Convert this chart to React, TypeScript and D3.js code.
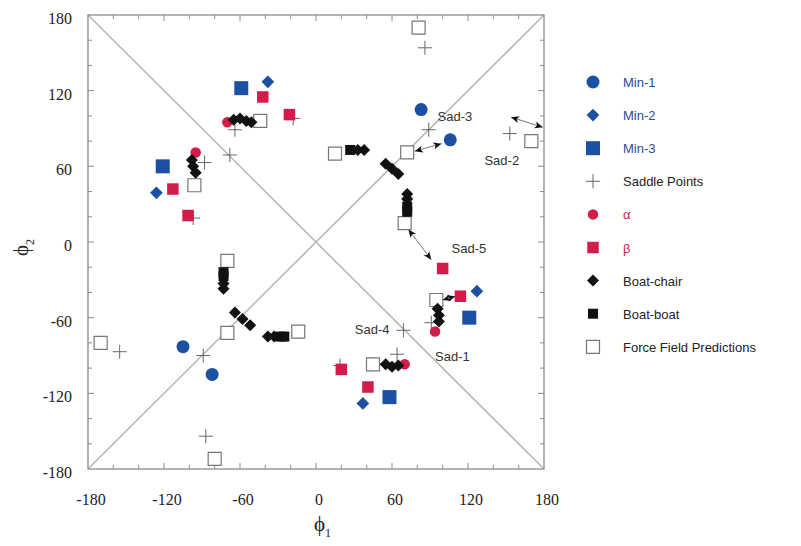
import React from "react";
import * as d3 from "d3";

// phi1, phi2 in degrees
const min1 = [[83, 105], [106, 81], [-105, -83], [-82, -105]];
const min2 = [[-38, 127], [-126, 39], [127, -39], [37, -128]];
const min3 = [[-59, 122], [-121, 60], [121, -60], [58, -123]];
const saddles = [
  [86, 154], [89, 89], [153, 86], [-64, 89], [-68, 69], [-88, 63], [-97, 19], [-18, 98],
  [69, -70], [91, -64], [64, -89], [-155, -87], [-89, -90], [-87, -154], [19, -98],
];
const alpha = [[-70, 95], [-95, 71], [94, -71], [70, -97]];
const beta = [
  [-42, 115], [-21, 101], [-113, 42], [-101, 21], [114, -43], [100, -21], [20, -101], [41, -115],
];
const boatChair = [
  [-65, 97], [-60, 98], [-55, 96], [-51, 95],
  [-98, 65], [-97, 60], [-95, 55],
  [33, 73], [38, 73],
  [55, 62], [60, 58], [65, 54],
  [72, 38], [72, 34],
  [96, -53], [97, -58], [97, -63],
  [55, -97], [60, -99], [65, -98],
  [-73, -33], [-73, -37],
  [-64, -56], [-58, -61], [-52, -66],
  [-38, -75], [-33, -75],
];
const boatBoat = [[27, 73], [72, 28], [72, 24], [-73, -27], [-73, -24], [-28, -75], [-25, -75]];
const forceField = [
  [81, 170], [-44, 96], [15, 70], [72, 71], [170, 80], [-96, 45], [70, 15], [95, -46],
  [45, -97], [-70, -15], [-70, -72], [-14, -71], [-170, -80], [-80, -172],
];
// double-headed arrows [from, to]
const arrows = [
  [[78, 72], [99, 78]],
  [[154, 99], [179, 91]],
  [[73, 10], [91, -14]],
  [[100, -46], [110, -43]],
];
const saddleLabels = [
  { text: "Sad-3", at: [96, 100], anchor: "start" },
  { text: "Sad-2", at: [133, 65], anchor: "start" },
  { text: "Sad-5", at: [107, -5], anchor: "start" },
  { text: "Sad-4", at: [58, -69], anchor: "end" },
  { text: "Sad-1", at: [94, -90], anchor: "start" },
];
const tickValues = [-180, -120, -60, 0, 60, 120, 180];
const legendItems = ["Min-1", "Min-2", "Min-3", "Saddle Points", "\u03b1", "\u03b2", "Boat-chair", "Boat-boat", "Force Field Predictions"];

const BLUE = "#1c50a3";
const RED = "#d41c4a";
const BLACK = "#111";
const FRAME = "#8c8c8c";

const x = d3.scaleLinear().domain([-180, 180]).range([88, 544]);
const y = d3.scaleLinear().domain([-180, 180]).range([469, 15]);

const circlePath = (d: number) => d3.symbol(d3.symbolCircle, (Math.PI * d * d) / 4)()!;
const squarePath = (s: number) => d3.symbol(d3.symbolSquare, s * s)()!;

function Marker({ kind, cx, cy }: { kind: string; cx: number; cy: number }) {
  const t = `translate(${cx},${cy})`;
  switch (kind) {
    case "Min-1":
      return <path d={circlePath(13)} transform={t} fill={BLUE} />;
    case "Min-2":
      return <path d={squarePath(9)} transform={`${t} rotate(45)`} fill={BLUE} />;
    case "Min-3":
      return <path d={squarePath(14)} transform={t} fill={BLUE} />;
    case "Saddle Points":
      return (
        <g transform={t} stroke="#666" strokeWidth={1}>
          <line x1={-7} x2={7} y1={0} y2={0} />
          <line x1={0} x2={0} y1={-7} y2={7} />
        </g>
      );
    case "\u03b1":
      return <path d={circlePath(10.5)} transform={t} fill={RED} />;
    case "\u03b2":
      return <path d={squarePath(11.5)} transform={t} fill={RED} />;
    case "Boat-chair":
      return <path d={squarePath(8.5)} transform={`${t} rotate(45)`} fill={BLACK} />;
    case "Boat-boat":
      return <path d={squarePath(10)} transform={t} fill={BLACK} />;
    default:
      return <path d={squarePath(13)} transform={t} fill="#fff" stroke="#777" strokeWidth={1.2} />;
  }
}

const layers: [string, number[][]][] = [
  ["Force Field Predictions", forceField],
  ["Saddle Points", saddles],
  ["Min-3", min3],
  ["Min-2", min2],
  ["Min-1", min1],
  ["\u03b2", beta],
  ["\u03b1", alpha],
  ["Boat-boat", boatBoat],
  ["Boat-chair", boatChair],
];

function Arrow({ from, to }: { from: number[]; to: number[] }) {
  const x1 = x(from[0]), y1 = y(from[1]), x2 = x(to[0]), y2 = y(to[1]);
  const ang = (Math.atan2(y2 - y1, x2 - x1) * 180) / Math.PI;
  const head = "M0,0L-8,-3.5L-6,0L-8,3.5Z";
  return (
    <g>
      <line x1={x1} y1={y1} x2={x2} y2={y2} stroke="#777" strokeWidth={1} />
      <path d={head} fill={BLACK} transform={`translate(${x2},${y2}) rotate(${ang})`} />
      <path d={head} fill={BLACK} transform={`translate(${x1},${y1}) rotate(${ang + 180})`} />
    </g>
  );
}

export default function App() {
  const minor = d3.range(-160, 180, 20);
  const serif = "'Liberation Serif', 'Times New Roman', serif";
  const sans = "'Liberation Sans', Arial, sans-serif";
  return (
    <svg width={801} height={546} style={{ position: "absolute", left: 0, top: 0, background: "#fff" }}>
      {/* diagonals */}
      <line x1={x(-180)} y1={y(-180)} x2={x(180)} y2={y(180)} stroke="#b4b4b4" strokeWidth={1.5} />
      <line x1={x(-180)} y1={y(180)} x2={x(180)} y2={y(-180)} stroke="#b4b4b4" strokeWidth={1.5} />
      {/* frame and inward ticks */}
      <rect x={x(-180)} y={y(180)} width={x(180) - x(-180)} height={y(-180) - y(180)} fill="none" stroke={FRAME} strokeWidth={1.3} />
      <g stroke={FRAME} strokeWidth={1}>
        {minor.map((v) => {
          const len = v % 60 === 0 ? 6 : 4;
          return (
            <g key={v}>
              <line x1={x(v)} x2={x(v)} y1={y(-180)} y2={y(-180) - len} />
              <line x1={x(v)} x2={x(v)} y1={y(180)} y2={y(180) + len} />
              <line x1={x(-180)} x2={x(-180) + len} y1={y(v)} y2={y(v)} />
              <line x1={x(180)} x2={x(180) - len} y1={y(v)} y2={y(v)} />
            </g>
          );
        })}
      </g>
      {/* tick labels */}
      <g fontFamily={serif} fontSize={16} fill="#222">
        {tickValues.map((v) => (
          <text key={"x" + v} x={x(v) + 3} y={505} textAnchor="middle">{v}</text>
        ))}
        {tickValues.map((v) => (
          <text key={"y" + v} x={72} y={y(v) + 9} textAnchor="end">{v}</text>
        ))}
      </g>
      {/* axis titles */}
      <text x={314} y={531} fontFamily={serif} fontSize={21} fill="#222">
        {"\u03d5"}
        <tspan fontSize={12} dy={6}>1</tspan>
      </text>
      <text transform="translate(28,256) rotate(-90)" fontFamily={serif} fontSize={21} fill="#222">
        {"\u03d5"}
        <tspan fontSize={12} dy={6}>2</tspan>
      </text>
      {/* points */}
      {layers.map(([kind, pts]) => (
        <g key={kind}>
          {pts.map((p, i) => (
            <Marker key={i} kind={kind} cx={x(p[0])} cy={y(p[1])} />
          ))}
        </g>
      ))}
      {/* arrows */}
      {arrows.map((a, i) => (
        <Arrow key={i} from={a[0]} to={a[1]} />
      ))}
      {/* saddle labels */}
      <g fontFamily={sans} fontSize={13} fill="#333">
        {saddleLabels.map((l) => (
          <text key={l.text} x={x(l.at[0])} y={y(l.at[1]) + 5} textAnchor={l.anchor}>{l.text}</text>
        ))}
      </g>
      {/* legend */}
      <g fontFamily={sans} fontSize={13}>
        {legendItems.map((name, i) => {
          const ly = 82 + i * 33.1;
          const color = i < 3 ? "#2c4a98" : i < 6 && i > 3 ? RED : "#222";
          return (
            <g key={name}>
              <Marker kind={name} cx={593} cy={ly} />
              <text x={623} y={ly + 5} fill={color}>{name}</text>
            </g>
          );
        })}
      </g>
    </svg>
  );
}
